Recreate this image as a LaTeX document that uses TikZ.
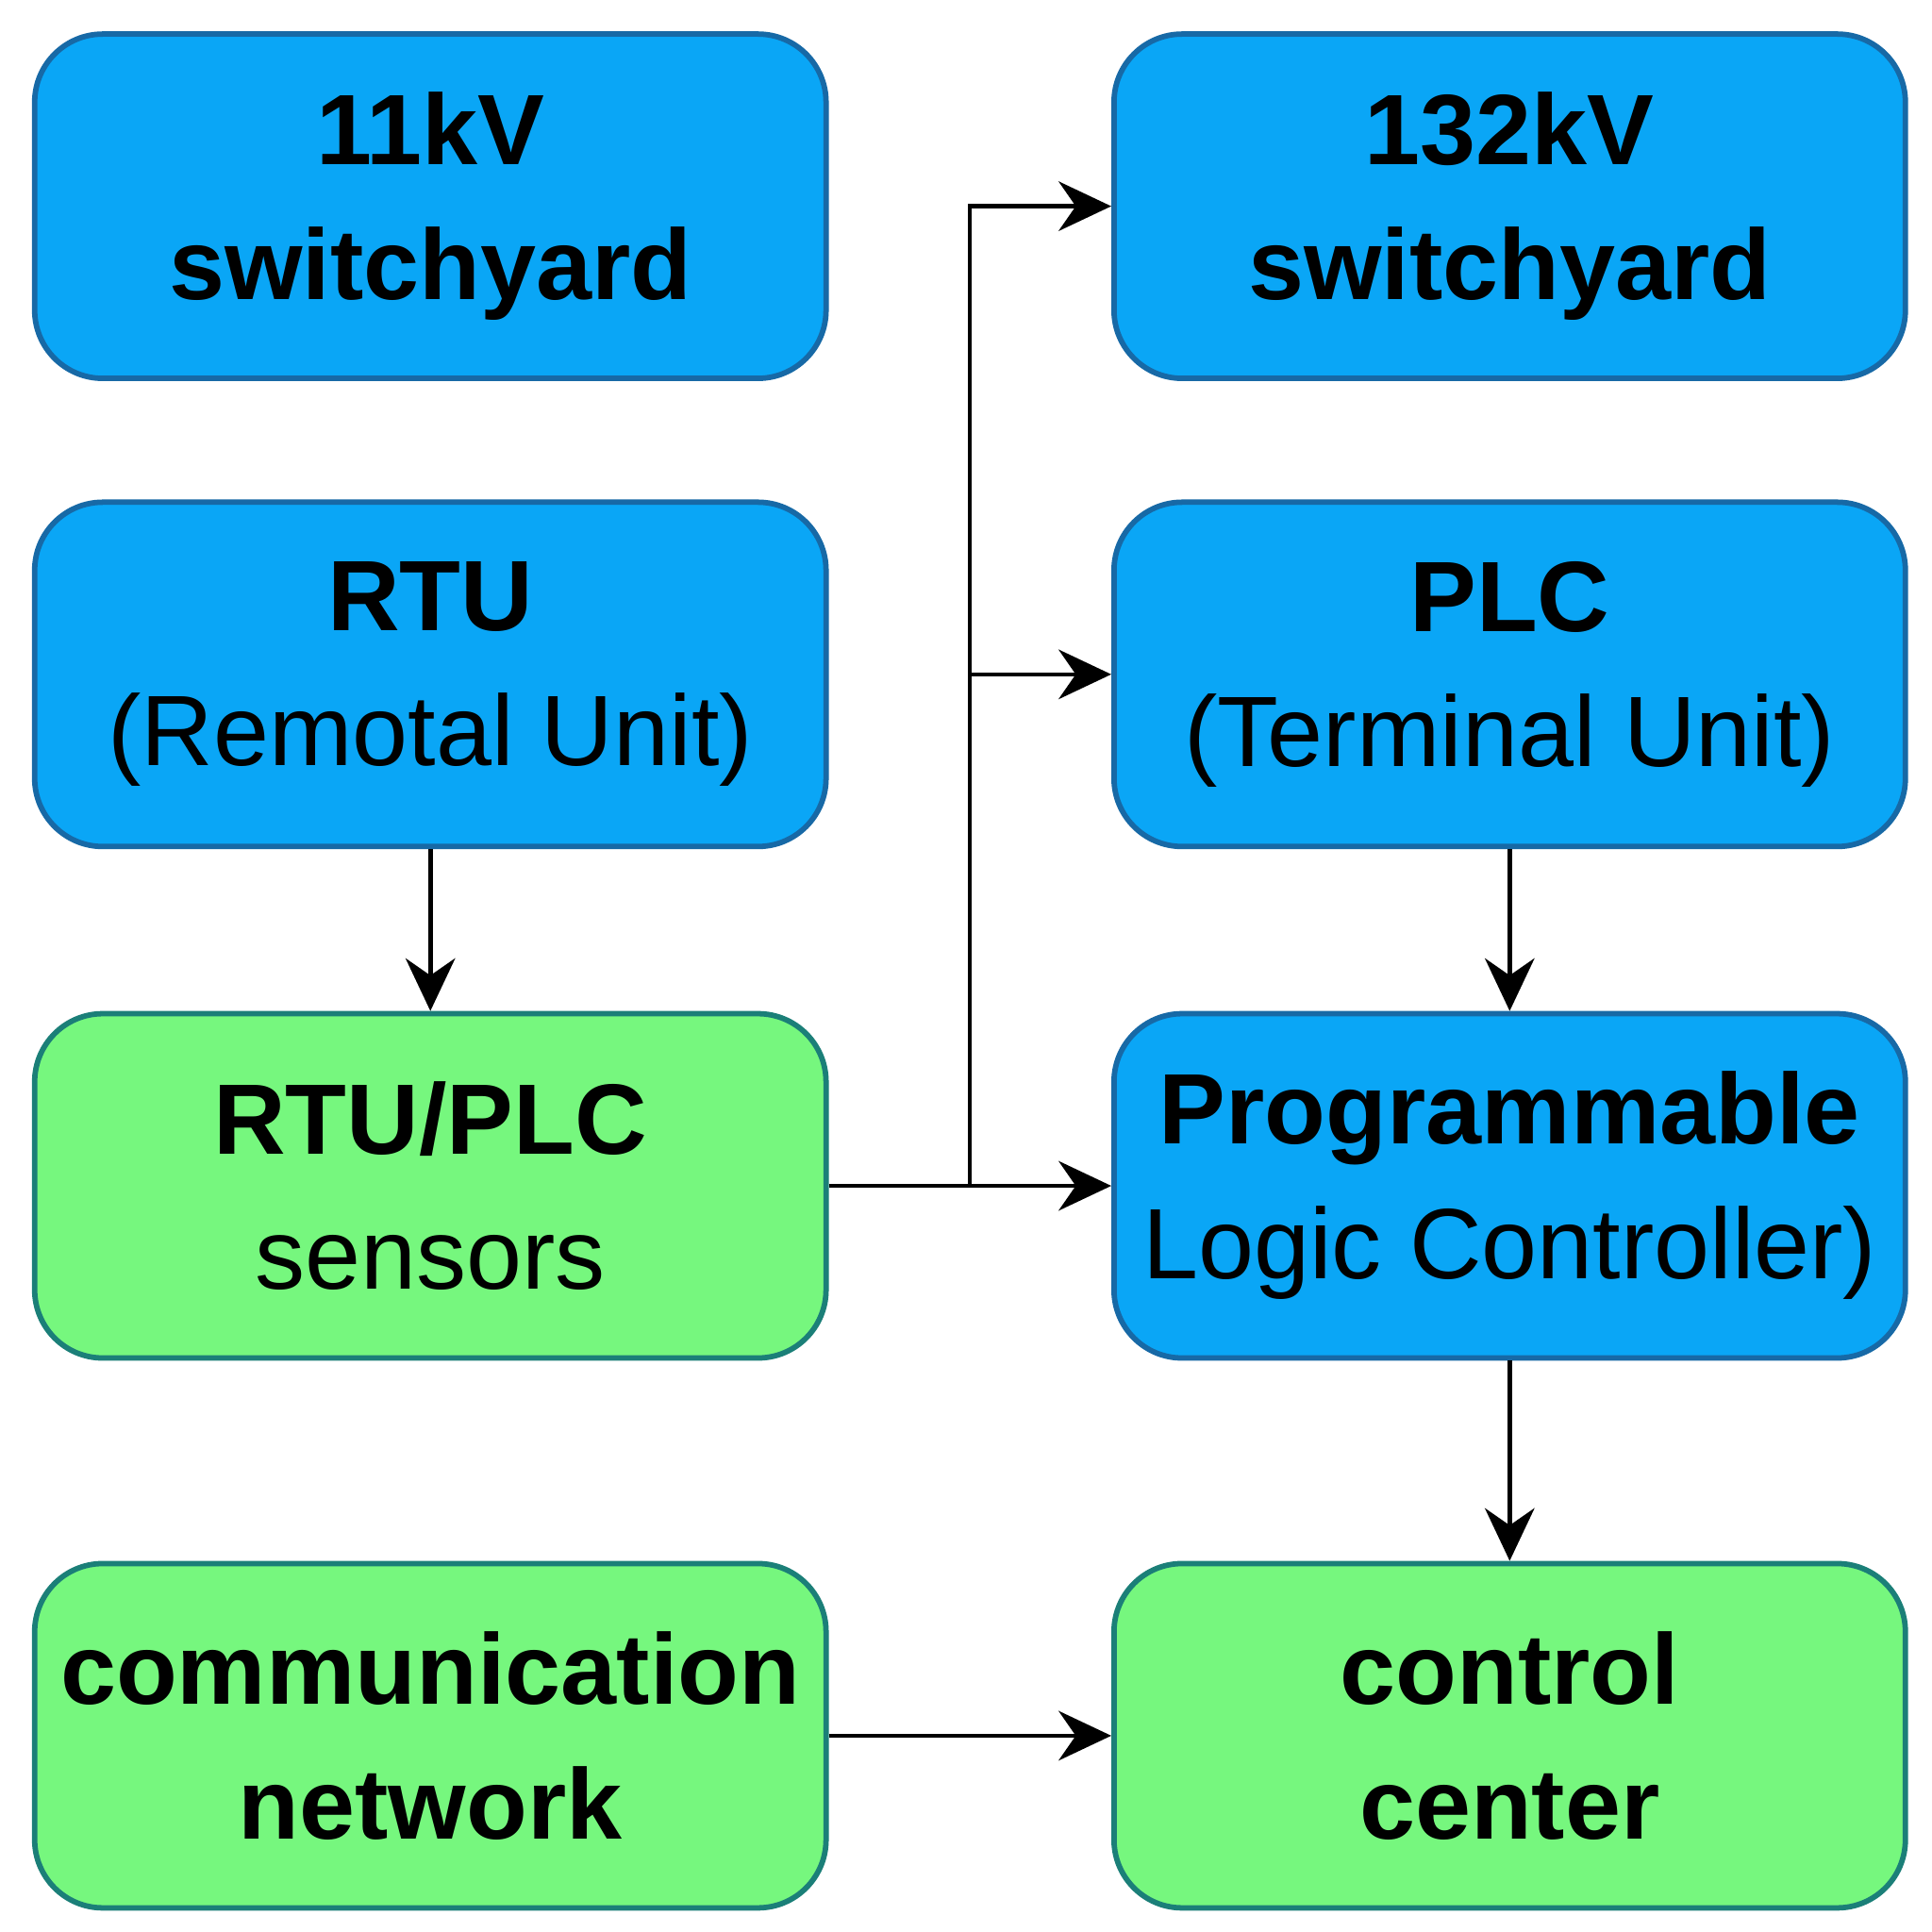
\documentclass[tikz,border=0pt]{standalone}
\usepackage{fontspec}
\setmainfont{Liberation Sans}
\usetikzlibrary{arrows.meta}
\definecolor{bfill}{HTML}{0AA6F6}
\definecolor{bdraw}{HTML}{1769A6}
\definecolor{gfill}{HTML}{76F77E}
\definecolor{gdraw}{HTML}{1B7F78}
\tikzset{x=0.02cm,y=-0.02cm,
 box/.style={rounded corners=1.1cm,line width=2.5pt,minimum width=639*0.02cm,minimum height=278*0.02cm,align=center,inner sep=0pt,font=\fontsize{46}{62}\selectfont},
 bbox/.style={box,fill=bfill,draw=bdraw},
 gbox/.style={box,fill=gfill,draw=gdraw},
 arr/.style={line width=2pt,-{Stealth[length=0.85cm,width=0.8cm]}}}
\begin{document}
\begin{tikzpicture}
\useasboundingbox[fill=white] (0,0) rectangle (1560,1560);
\node[bbox] (sw11) at (347.5,166.5) {\textbf{11kV}\\\textbf{switchyard}};
\node[bbox] (sw132) at (1219,166.5) {\textbf{132kV}\\\textbf{switchyard}};
\node[bbox] (rtu) at (347.5,544.5) {\textbf{RTU}\\(Remotal Unit)};
\node[bbox] (plc) at (1219,544.5) {\textbf{PLC}\\(Terminal Unit)};
\node[gbox] (sens) at (347.5,957.5) {\textbf{RTU/PLC}\\sensors};
\node[bbox] (prog) at (1219,957.5) {\textbf{Programmable}\\Logic Controller)};
\node[gbox] (comm) at (347.5,1401.5) {\textbf{communication}\\\textbf{network}};
\node[gbox] (cc) at (1219,1401.5) {\textbf{control}\\\textbf{center}};
\coordinate (j) at (783,957);
\draw[arr] (rtu) -- (sens);
\draw[arr] (plc) -- (prog);
\draw[arr] (prog) -- (cc);
\draw[arr] (comm) -- (cc);
\draw[arr] (sens) -- (prog);
\draw[arr] (j) |- (sw132.west);
\draw[arr] (j) |- (plc.west);
\end{tikzpicture}
\end{document}
